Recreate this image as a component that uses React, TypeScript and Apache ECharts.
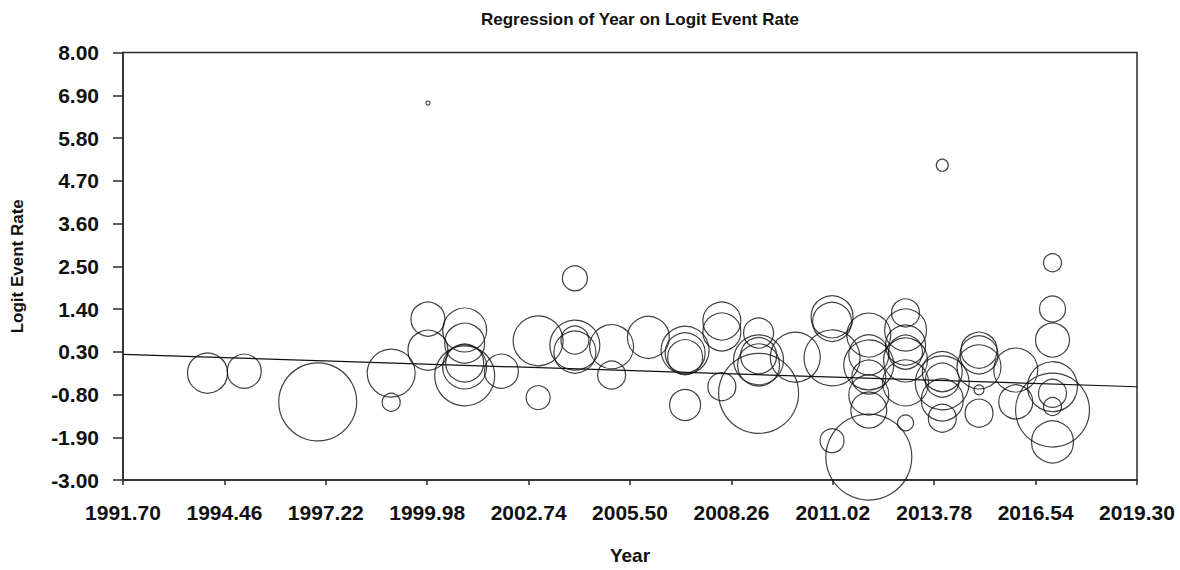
import React, { useEffect, useRef } from "react";
import * as echarts from "echarts";

// ---- Data ----
const X_MIN = 1991.7;
const X_MAX = 2019.3;
const X_STEP = 2.76;
const Y_MIN = -3.0;
const Y_MAX = 8.0;
const Y_STEP = 1.1;

// Study years
const studyYears = [
  1994,
  1995,
  1997,
  1999, 1999,
  2000, 2000, 2000,
  2001, 2001, 2001, 2001, 2001,
  2002,
  2003, 2003,
  2004, 2004, 2004, 2004,
  2005, 2005,
  2006,
  2007, 2007, 2007, 2007,
  2008, 2008, 2008,
  2009, 2009, 2009, 2009, 2009,
  2010,
  2011, 2011, 2011, 2011,
  2012, 2012, 2012, 2012, 2012, 2012, 2012,
  2013, 2013, 2013, 2013, 2013, 2013, 2013,
  2014, 2014, 2014, 2014, 2014, 2014,
  2015, 2015, 2015, 2015, 2015,
  2016, 2016,
  2017, 2017, 2017, 2017, 2017, 2017, 2017, 2017,
];

// Logit event rate per study
const logitRates = [
  -0.25,
  -0.2,
  -0.99,
  -0.25, -1.0,
  1.14, 0.34, 6.7,
  0.86, 0.52, 0.01, -0.09, -0.32,
  -0.2,
  0.58, -0.88,
  2.19, 0.6, 0.47, 0.29,
  0.43, -0.3,
  0.67,
  0.34, 0.27, 0.16, -1.07,
  1.09, 0.81, -0.6,
  0.78, 0.2, 0.09, -0.04, -0.77,
  0.16,
  1.2, 1.07, 0.14, -1.99,
  0.73, 0.22, -0.04, -0.35, -0.81, -1.2, -2.41,
  1.3, 0.86, 0.47, 0.29, 0.09, -0.5, -1.53,
  5.1, -0.21, -0.43, -0.5, -0.94, -1.41,
  0.34, 0.22, -0.09, -0.68, -1.28,
  -0.17, -0.99,
  2.59, 1.4, 0.6, -0.6, -0.77, -1.11, -1.2, -2.02,
];

// Relative study weights (bubble area)
const studyWeights = [
  4.0,
  2.89,
  15.21,
  5.76, 0.81,
  2.89, 4.0, 0.04,
  4.84, 4.0, 3.61, 4.84, 9.0,
  2.89,
  6.25, 1.44,
  1.56, 1.96, 6.25, 4.41,
  4.84, 1.96,
  4.41,
  5.76, 4.0, 3.06, 2.4,
  3.61, 3.61, 1.96,
  2.25, 3.24, 6.25, 4.41, 16.0,
  6.25,
  4.41, 3.8, 7.84, 1.44,
  4.84, 4.0, 6.25, 2.89, 4.0, 3.24, 18.49,
  1.96, 4.41, 4.0, 2.89, 4.84, 5.29, 0.64,
  0.36, 4.0, 2.89, 7.29, 4.41, 1.96,
  3.24, 3.61, 4.84, 0.25, 1.96,
  4.84, 2.89,
  0.81, 1.69, 2.89, 6.25, 1.96, 0.81, 13.69, 4.41,
];

// Regression line endpoints
const regressionYears = [1991.7, 2019.3];
const regressionRates = [0.23, -0.6];

const FONT = "'Liberation Sans', Arial, Helvetica, sans-serif";

export default function App() {
  const ref = useRef<HTMLDivElement>(null);

  useEffect(() => {
    if (!ref.current) return;
    const chart = echarts.init(ref.current, undefined, { renderer: "svg" });

    const bubbles = studyYears.map((yr, i) => [
      yr - X_MIN,
      logitRates[i] - Y_MIN,
      studyWeights[i],
    ]);
    const regLine = regressionYears.map((yr, i) => [
      yr - X_MIN,
      regressionRates[i] - Y_MIN,
    ]);

    const axisColor = "#2a2a2a";

    chart.setOption({
      animation: false,
      backgroundColor: "#ffffff",
      graphic: [
        {
          type: "text",
          x: 640,
          y: 19,
          style: {
            text: "Regression of Year on Logit Event Rate",
            fontFamily: FONT,
            fontWeight: "bold",
            fontSize: 17,
            fill: "#111",
            textAlign: "center",
            textVerticalAlign: "middle",
          },
        },
      ],
      grid: {
        left: 123,
        width: 1014,
        top: 52.5,
        height: 427.5,
        outerBoundsMode: "none",
        containLabel: false,
        show: true,
        borderColor: axisColor,
        borderWidth: 1.5,
        backgroundColor: "transparent",
      },
      xAxis: {
        type: "value",
        min: 0,
        max: X_MAX - X_MIN,
        interval: X_STEP,
        name: "Year",
        nameLocation: "middle",
        nameGap: 66,
        nameTextStyle: {
          fontFamily: FONT,
          fontWeight: "bold",
          fontSize: 19,
          color: "#111",
        },
        splitLine: { show: false },
        axisLine: { show: true, lineStyle: { color: axisColor, width: 1.5 } },
        axisTick: { show: true, length: 5, lineStyle: { color: axisColor, width: 1.5 } },
        axisLabel: {
          margin: 22,
          fontFamily: FONT,
          fontWeight: "bold",
          fontSize: 21,
          color: "#111",
          formatter: (v: number) => (v + X_MIN).toFixed(2),
        },
      },
      yAxis: {
        type: "value",
        min: 0,
        max: Y_MAX - Y_MIN,
        interval: Y_STEP,
        name: "Logit Event Rate",
        nameLocation: "middle",
        nameGap: 97,
        nameTextStyle: {
          fontFamily: FONT,
          fontWeight: "bold",
          fontSize: 17,
          color: "#111",
        },
        splitLine: { show: false },
        axisLine: { show: true, lineStyle: { color: axisColor, width: 1.5 } },
        axisTick: { show: true, length: 10, lineStyle: { color: axisColor, width: 1.5 } },
        axisLabel: {
          margin: 24,
          fontFamily: FONT,
          fontWeight: "bold",
          fontSize: 21,
          color: "#111",
          formatter: (v: number) => (v + Y_MIN).toFixed(2),
        },
      },
      series: [
        {
          type: "scatter",
          data: bubbles,
          symbol: "circle",
          symbolSize: (val: number[]) => 20 * Math.sqrt(val[2]),
          itemStyle: {
            color: "rgba(0,0,0,0)",
            borderColor: "#111",
            borderWidth: 1.2,
          },
          emphasis: { disabled: true },
          z: 2,
        },
        {
          type: "line",
          data: regLine,
          symbol: "none",
          lineStyle: { color: "#111", width: 1.2 },
          z: 3,
        },
      ],
    });

    return () => chart.dispose();
  }, []);

  return (
    <div
      ref={ref}
      style={{ position: "fixed", left: 0, top: 0, width: 1180, height: 570 }}
    />
  );
}
